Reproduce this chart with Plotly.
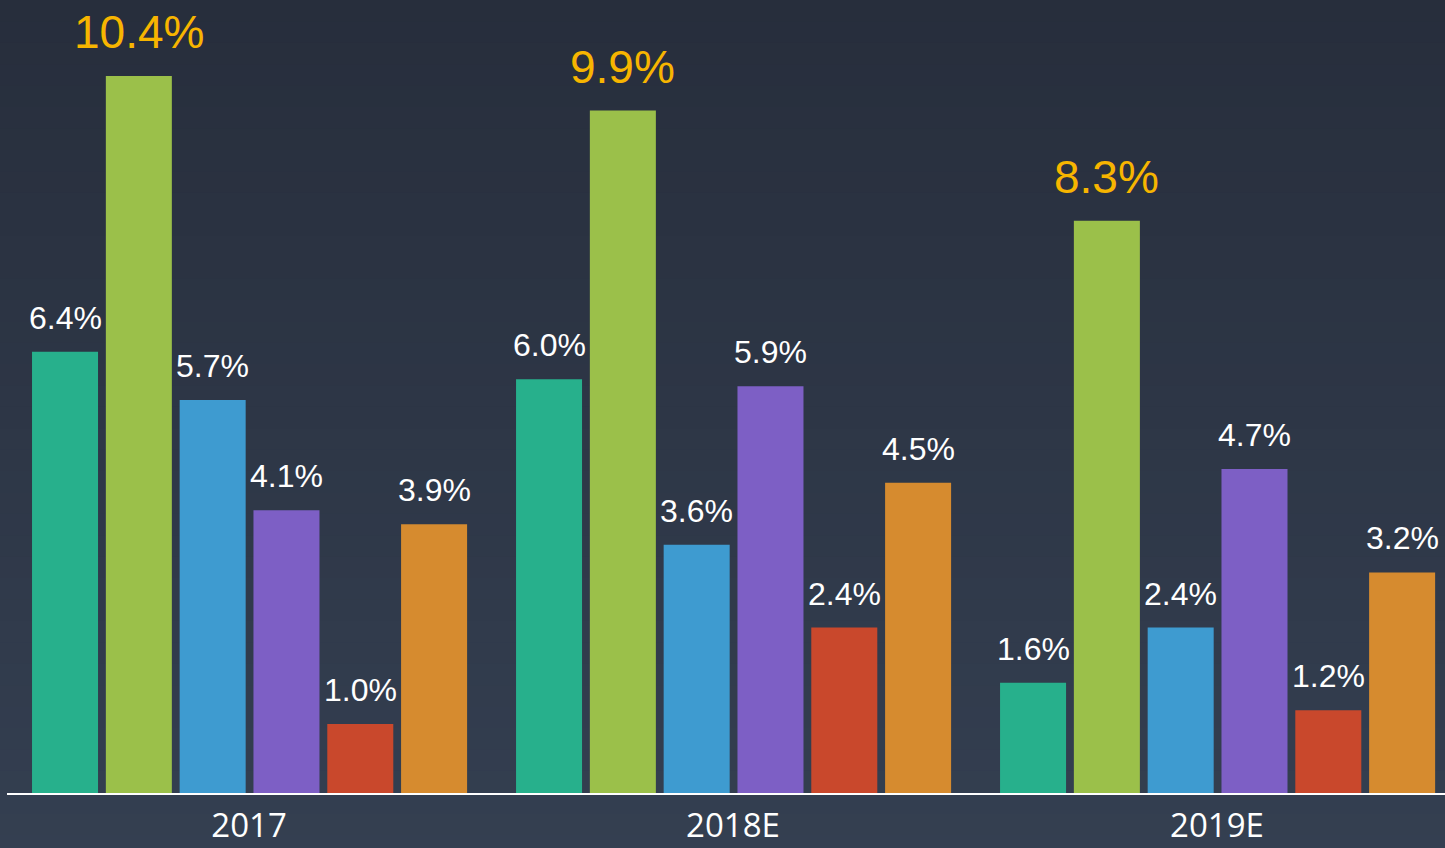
import plotly.graph_objects as go

categorias = ["2017", "2018E", "2019E"]
serie_1 = [6.4, 6.0, 1.6]
serie_2 = [10.4, 9.9, 8.3]
serie_3 = [5.7, 3.6, 2.4]
serie_4 = [4.1, 5.9, 4.7]
serie_5 = [1.0, 2.4, 1.2]
serie_6 = [3.9, 4.5, 3.2]

series = [serie_1, serie_2, serie_3, serie_4, serie_5, serie_6]
nomes = ["系列1", "系列2", "系列3", "系列4", "系列5", "系列6"]
cores = ["#27b08c", "#9bc04a", "#3e9bd0", "#7d5fc5", "#c9482c", "#d68b2f"]

LARGURA = 0.1364
PASSO = 0.1525
OFFSET0 = -0.4483

fig = go.Figure()
anotacoes = []
pos_x = list(range(len(categorias)))

for j, (vals, nome, cor) in enumerate(zip(series, nomes, cores)):
    off = OFFSET0 + j * PASSO
    fig.add_trace(go.Bar(
        x=pos_x,
        y=vals,
        name=nome,
        width=LARGURA,
        offset=off,
        marker=dict(color=cor, line=dict(width=0)),
        hovertemplate="%{y:.1f}%<extra></extra>",
    ))
    destaque = (vals is serie_2)
    for i, v in zip(pos_x, vals):
        anotacoes.append(dict(
            x=i + off + LARGURA / 2,
            y=v,
            text=f"{v:.1f}%",
            showarrow=False,
            xanchor="center",
            yanchor="bottom",
            yshift=16 if destaque else 14,
            font=dict(
                family="Liberation Sans, Arial, sans-serif",
                size=46 if destaque else 32,
                color="#f7b500" if destaque else "#ffffff",
            ),
        ))

# fundo em degradê
topo = (39, 46, 60)
base = (52, 63, 81)
n = 40
y_ini, y_fim = -0.08, 1.0
formas = []
for k in range(n):
    t = k / (n - 1)
    c = tuple(round(base[m] + (topo[m] - base[m]) * t) for m in range(3))
    formas.append(dict(
        type="rect", xref="paper", yref="paper",
        x0=-0.02, x1=1.02,
        y0=y_ini + (y_fim - y_ini) * k / n,
        y1=y_ini + (y_fim - y_ini) * (k + 1) / n + 0.001,
        fillcolor=f"rgb{c}", line=dict(width=0), layer="below",
    ))

fig.update_layout(
    width=1445,
    height=848,
    margin=dict(t=0, b=55, l=7, r=0),
    paper_bgcolor="#2d3646",
    plot_bgcolor="rgba(0,0,0,0)",
    barmode="overlay",
    showlegend=False,
    shapes=formas,
    annotations=anotacoes,
    xaxis=dict(
        range=[-0.5, 2.471],
        tickvals=pos_x,
        ticktext=categorias,
        showgrid=False,
        zeroline=False,
        showline=True,
        linecolor="#ffffff",
        linewidth=2,
        ticks="",
        automargin=False,
        ticklabelstandoff=2,
        tickfont=dict(family="Open Sans, Noto Sans, sans-serif", size=33, color="#ffffff"),
    ),
    yaxis=dict(
        range=[0, 11.503],
        showgrid=False,
        zeroline=False,
        showticklabels=False,
        showline=False,
        automargin=False,
    ),
)

fig.write_html(
    "out.html",
    config={"displayModeBar": False},
    post_script="document.body.style.margin='0';document.body.style.overflow='hidden';",
)
